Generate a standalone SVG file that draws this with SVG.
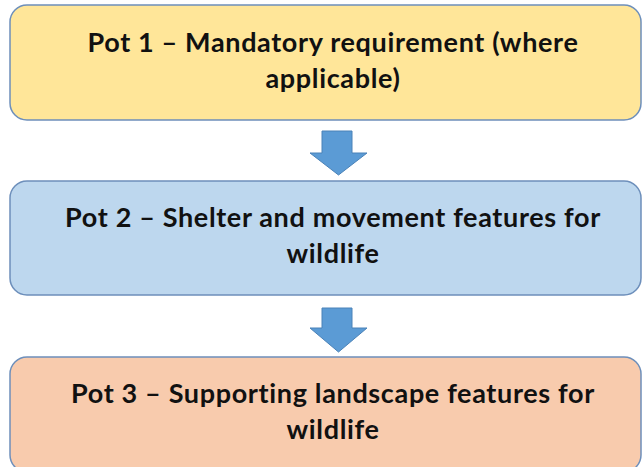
<svg xmlns="http://www.w3.org/2000/svg" width="642" height="467" viewBox="0 0 642 467">
<defs>
<style>
.box{stroke:#6d8fbb;stroke-width:1.5}
.t{font-family:Lato,"Liberation Sans",sans-serif;font-weight:bold;font-size:27px;letter-spacing:0.65px;fill:#111;text-anchor:middle}
.arr{fill:#5b9bd5;stroke:#4a82b8;stroke-width:1}
</style>
</defs>
<rect width="642" height="467" fill="#ffffff"/>
<g id="connectors">
<path class="arr" d="M322,131 H352 V153 H367 L338.5,175 L310,153 H322 Z"/>
<path class="arr" d="M322,308 H352 V328 H367 L338.5,352 L310,328 H322 Z"/>
</g>
<g id="pot1">
<rect class="box" x="10" y="5" width="631" height="115" rx="17" fill="#ffe699"/>
<text class="t" x="333" y="52">Pot 1 – Mandatory requirement (where</text>
<text class="t" x="333" y="88">applicable)</text>
</g>
<g id="pot2">
<rect class="box" x="10" y="181" width="631" height="114" rx="17" fill="#bdd7ee"/>
<text class="t" x="333" y="227">Pot 2 – Shelter and movement features for</text>
<text class="t" x="333" y="263">wildlife</text>
</g>
<g id="pot3">
<rect class="box" x="10" y="357" width="631" height="115" rx="17" fill="#f8cbad"/>
<text class="t" x="333" y="403">Pot 3 – Supporting landscape features for</text>
<text class="t" x="333" y="439">wildlife</text>
</g>
</svg>
